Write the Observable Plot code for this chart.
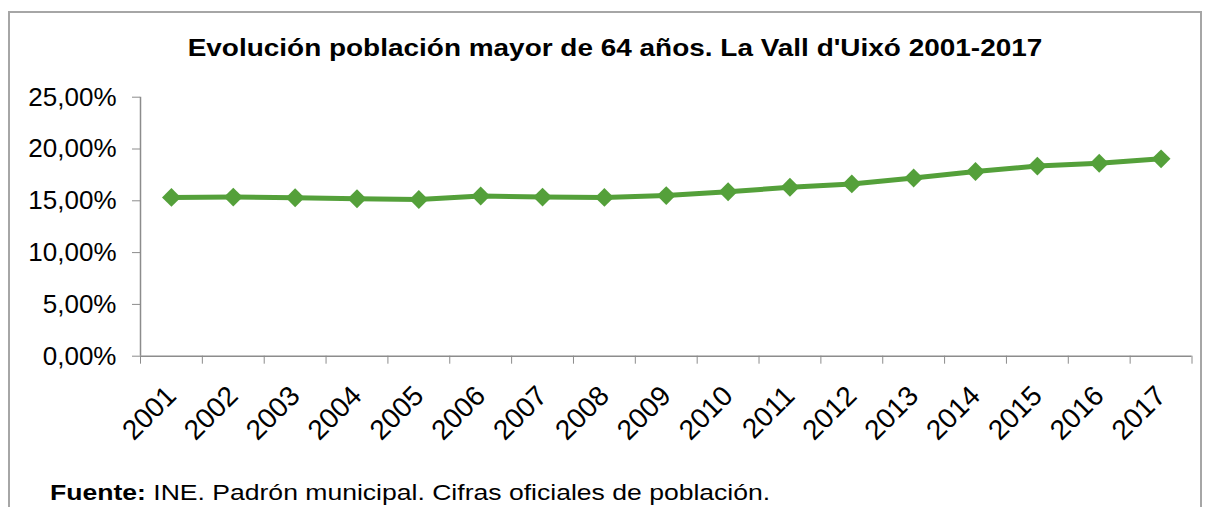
<!DOCTYPE html>
<html><head><meta charset="utf-8">
<script src="https://cdn.jsdelivr.net/npm/d3@7"></script>
<script src="https://cdn.jsdelivr.net/npm/@observablehq/plot@0.6"></script>
<style>
body{margin:0;background:#fff;font-family:"Liberation Sans",Arial,sans-serif;}
#wrap{position:relative;width:1209px;height:507px;overflow:hidden;background:#fff;}
#frame{position:absolute;left:8px;top:11px;width:1194px;height:600px;border:2px solid #a6a6a6;box-sizing:border-box;}
#title{position:absolute;left:615px;top:34px;font-weight:bold;font-size:23px;color:#000;line-height:28px;white-space:nowrap;transform:translateX(-50%) scaleX(1.215);}
#chart{position:absolute;left:0;top:0;}
#caption{position:absolute;left:50px;top:481px;font-size:21.5px;color:#000;line-height:24px;white-space:nowrap;transform-origin:0 0;transform:scaleX(1.235);}
</style></head><body>
<div id="wrap"><div id="frame"></div><div id="chart"></div>
<div id="title">Evolución población mayor de 64 años. La Vall d'Uixó 2001-2017</div>
<div id="caption"><b>Fuente:</b> INE. Padrón municipal. Cifras oficiales de población.</div></div>
<script>
const years = [2001,2002,2003,2004,2005,2006,2007,2008,2009,2010,2011,2012,2013,2014,2015,2016,2017];
const shares = [15.33,15.36,15.30,15.20,15.13,15.46,15.36,15.33,15.50,15.87,16.31,16.63,17.20,17.83,18.35,18.63,19.05];
const yTicks = [0,5,10,15,20,25];
const data = years.map((y,i)=>({year:y, share:shares[i]}));
const boundaries = years.map(y=>y-0.5).concat([years[years.length-1]+0.5]);
const fmt = d => d.toFixed(2).replace(".", ",") + "%";
const green = "#54a03a";
const gray = "#8c8c8c";
const H = 460;
const plot = Plot.plot({
  width:1209, height:H,
  marginLeft:140, marginRight:17.5, marginTop:96.7, marginBottom:H-355.7,
  style:{background:"none", fontFamily:"'Liberation Sans',Arial,sans-serif", fontSize:"26px", color:"#000", overflow:"visible"},
  x:{type:"linear", domain:[boundaries[0], boundaries[boundaries.length-1]], label:null},
  y:{domain:[0,25], label:null},
  marks:[
    Plot.ruleY([0], {stroke:gray, strokeWidth:1.5}),
    Plot.ruleX([boundaries[0]], {stroke:gray, strokeWidth:1.5}),
    Plot.axisY({ticks:yTicks, tickSize:8, tickPadding:16, tickFormat:fmt, stroke:gray, fill:"#000", fontSize:26}),
    Plot.axisX({ticks:boundaries, tickSize:8, fill:"none", stroke:gray}),
    Plot.axisX({ticks:years, tickSize:0, tickPadding:35, tickRotate:-45, tickFormat:d=>String(d), fill:"#000", fontSize:28}),
    Plot.line(data, {x:"year", y:"share", stroke:green, strokeWidth:5}),
    Plot.dot(data, {x:"year", y:"share", symbol:"diamond2", r:8.5, fill:green, stroke:"none"})
  ]
});
document.getElementById("chart").appendChild(plot);
</script>
</body></html>
